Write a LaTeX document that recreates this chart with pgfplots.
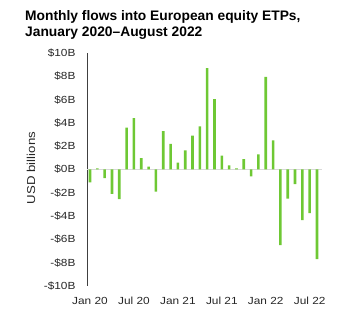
\documentclass[border=0pt]{standalone}
\usepackage{pgfplots}
\pgfplotsset{compat=1.18}
\usepackage{fontspec}
\setmainfont{Liberation Sans}
\newfontfamily\widefont[FakeStretch=1.15]{Liberation Sans}
\definecolor{bargreen}{RGB}{110,200,52}
\begin{document}
\begin{tikzpicture}
\begin{axis}[
  name=ax,
  scale only axis, width=235pt, height=233pt,
  xmin=-0.41, xmax=31.68, ymin=-10, ymax=10,
  axis lines=left,
  x axis line style={draw=none},
  y axis line style={-, draw=black!75, line width=0.8pt},
  major tick length=0pt,
  ytick={-10,-8,-6,-4,-2,0,2,4,6,8,10},
  yticklabels={-\$10B,-\$8B,-\$6B,-\$4B,-\$2B,\$0B,\$2B,\$4B,\$6B,\$8B,\$10B},
  xtick={0,6,12,18,24,30},
  xticklabels={Jan 20,Jul 20,Jan 21,Jul 21,Jan 22,Jul 22},
  tick label style={font=\widefont\fontsize{10.3}{12}\selectfont, text=black!85},
  yticklabel style={xshift=-8pt},
  xticklabel style={yshift=-8pt},
  clip=false,
]
\addplot[black!15, line width=1pt, forget plot] coordinates {(-0.41,0) (31.68,0)};
\addplot[ybar, bar width=2.6pt, fill=bargreen, draw=none] coordinates {
(0,-1.1) (1,0.1) (2,-0.75) (3,-2.1) (4,-2.55) (5,3.6) (6,4.4) (7,0.97)
(8,0.24) (9,-1.9) (10,3.3) (11,2.2) (12,0.6) (13,1.65) (14,2.9) (15,3.7)
(16,8.7) (17,6.05) (18,1.2) (19,0.35) (20,0.1) (21,0.9) (22,-0.6) (23,1.3)
(24,7.95) (25,2.5) (26,-6.5) (27,-2.5) (28,-1.25) (29,-4.35) (30,-3.75) (31,-7.7)
};
\end{axis}
\node[anchor=north west, align=left, font=\bfseries\fontsize{13.8}{16}\selectfont, inner sep=0pt] at ([shift={(-62pt,276pt)}]ax.south west) {Monthly flows into European equity ETPs,\\January 2020--August 2022};
\node[rotate=90, font=\widefont\fontsize{11.5}{13}\selectfont, text=black!85, inner sep=0pt] at ([shift={(-56pt,118pt)}]ax.south west) {USD billions};
\pgfresetboundingbox
\path[use as bounding box] ([shift={(-87pt,286pt)}]ax.south west) rectangle ([shift={(262pt,-42pt)}]ax.south west);
\end{tikzpicture}
\end{document}
